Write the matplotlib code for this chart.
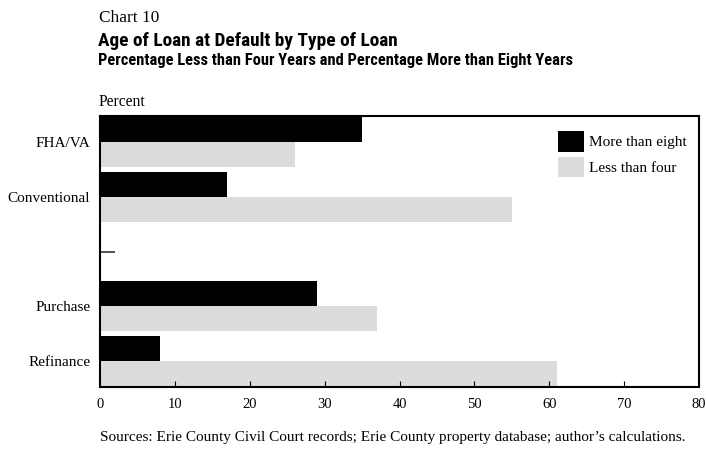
import matplotlib
matplotlib.use("Agg")
import matplotlib.pyplot as plt
from matplotlib import font_manager
import numpy as np

categories = ["FHA/VA", "Conventional", "", "Purchase", "Refinance"]
more_than_eight = [35, 17, None, 29, 8]
less_than_four = [26, 55, None, 37, 61]
xticks = [0, 10, 20, 30, 40, 50, 60, 70, 80]

serif = ["Liberation Serif", "DejaVu Serif"]
fonts = font_manager.fontManager.ttflist


def _w(f):
    w = f.weight
    if isinstance(w, str):
        return {"bold": 700, "heavy": 800, "black": 900, "semibold": 600,
                "demibold": 600}.get(w.lower(), 400)
    return w


cands = [f for f in fonts
         if ("Narrow" in f.name or "Condensed" in f.name
             or str(f.stretch).lower() in ("condensed", "semi-condensed", "extra-condensed"))
         and "Serif" not in f.name and "Mono" not in f.name and _w(f) >= 700]
cands.sort(key=lambda f: (0 if "Liberation" in f.name else 1 if "Roboto" in f.name else 2))
title_font = cands[0] if cands else None

W, H = 706, 449
fig = plt.figure(figsize=(W / 100, H / 100), dpi=100)
ax = fig.add_axes([100 / W, 1 - 387 / H, 599 / W, (387 - 116) / H])

bh = 25 / 55
pos = np.arange(len(categories))
for i, (m, l) in enumerate(zip(more_than_eight, less_than_four)):
    if m is None:
        ax.plot([0, 2], [i, i], color="#333333", lw=1.2, solid_capstyle="butt")
        continue
    ax.barh(i - bh / 2, m, height=bh, color="black", lw=0,
            label="More than eight" if i == 0 else None)
    ax.barh(i + bh / 2, l, height=bh, color="#dcdcdc", lw=0,
            label="Less than four" if i == 0 else None)

ax.set_xlim(0, 80)
ax.set_ylim(len(categories) - 1 + 0.47, -0.47)
ax.set_xticks(xticks)
ax.set_xticklabels([str(t) for t in xticks], family=serif, fontsize=10.5)
ax.set_yticks(pos)
ax.set_yticklabels(categories, family=serif, fontsize=11)
ax.tick_params(axis="x", direction="in", length=4, width=0.8, pad=8)
ax.tick_params(axis="y", length=0, pad=7)
for s in ax.spines.values():
    s.set_linewidth(1.5)

fs = 11
fpx = fs * 100 / 72
ax.legend(loc="upper left", bbox_to_anchor=((558 - 100) / 599, (387 - 131) / 271),
          frameon=False, prop={"family": serif, "size": fs},
          handlelength=26 / fpx, handleheight=26 / fpx, handletextpad=5 / fpx,
          labelspacing=5 / fpx, borderpad=0, borderaxespad=0)


def ftext(x, y, s, **kw):
    fig.text(x / W, 1 - y / H, s, **kw)


if title_font is not None:
    tkw = dict(fontproperties=font_manager.FontProperties(fname=title_font.fname))
    tsize, ssize = 13.9, 11.9
else:
    tkw = dict(family=["Liberation Sans", "DejaVu Sans"], fontweight="bold")
    tsize, ssize = 12, 8.8

ftext(99, 18.5, "Chart 10", family=serif, fontsize=12.4, va="center", ha="left")
t1 = fig.text(98 / W, 1 - 41 / H, "Age of Loan at Default by Type of Loan",
              va="center", ha="left", **tkw)
t1.set_fontsize(tsize)
t2 = fig.text(98 / W, 1 - 61 / H,
              "Percentage Less than Four Years and Percentage More than Eight Years",
              va="center", ha="left", **tkw)
t2.set_fontsize(ssize)
ftext(99, 102, "Percent", family=serif, fontsize=11.2, va="center", ha="left")
ftext(100, 437, "Sources: Erie County Civil Court records; Erie County property database; author\u2019s calculations.",
      family=serif, fontsize=11, va="center", ha="left")

fig.savefig("out.png", dpi=100)
